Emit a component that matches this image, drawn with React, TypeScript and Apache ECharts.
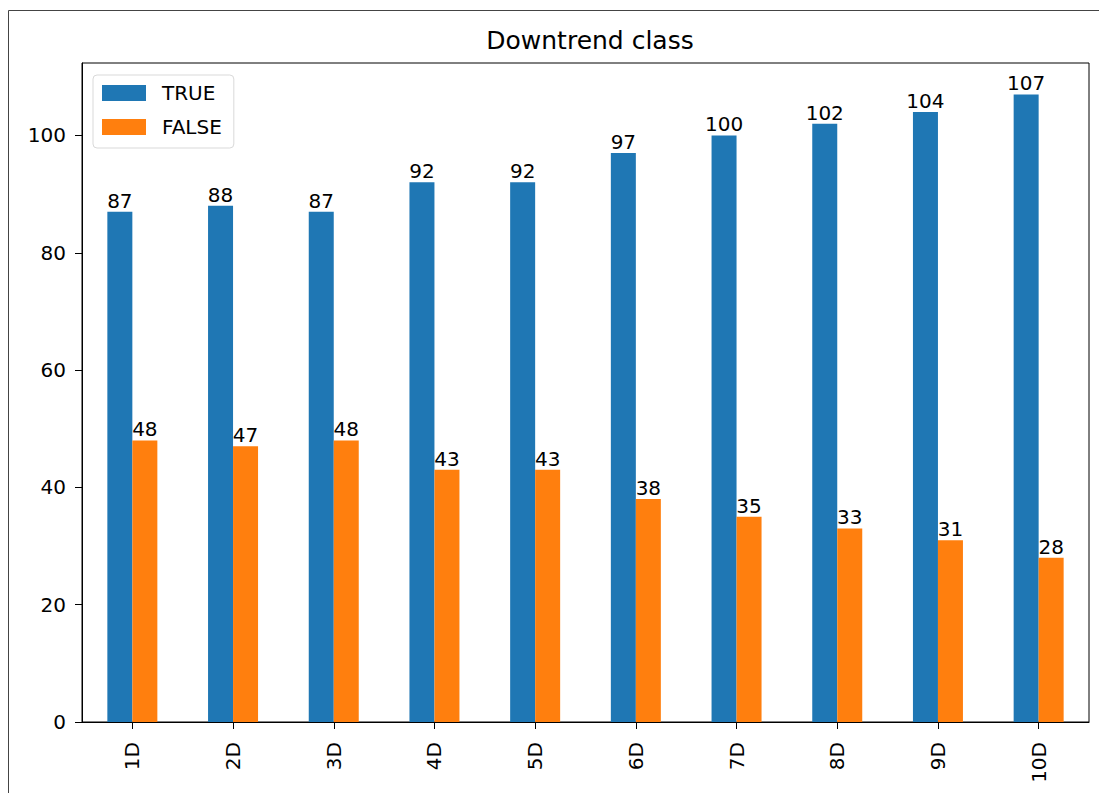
import React, { useEffect, useRef } from "react";
import * as echarts from "echarts";

const categories = ["1D", "2D", "3D", "4D", "5D", "6D", "7D", "8D", "9D", "10D"];
const trueValues = [87, 88, 87, 92, 92, 97, 100, 102, 104, 107];
const falseValues = [48, 47, 48, 43, 43, 38, 35, 33, 31, 28];
const yTicks = [0, 20, 40, 60, 80, 100];
const titleText = "Downtrend class";

const FONT = "DejaVu Sans";

export default function App() {
  const ref = useRef<HTMLDivElement>(null);
  useEffect(() => {
    if (!ref.current) return;
    const chart = echarts.init(ref.current, null, { renderer: "svg" });
    const labelCfg = {
      show: true,
      position: "top",
      distance: 1,
      color: "#000",
      fontFamily: FONT,
      fontSize: 20,
      lineHeight: 20,
    };
    chart.setOption({
      animation: false,
      backgroundColor: "#fff",
      textStyle: { fontFamily: FONT },
      title: {
        text: titleText,
        left: 585,
        textAlign: "center",
        top: 23,
        textStyle: { fontFamily: FONT, fontSize: 25, fontWeight: "normal", color: "#000" },
      },
      legend: {
        orient: "vertical",
        left: 93,
        top: 75,
        padding: [8, 12, 11, 9],
        itemWidth: 44,
        itemHeight: 16,
        itemGap: 14,
        icon: "rect",
        backgroundColor: "#fff",
        borderColor: "#d9d9d9",
        borderWidth: 1,
        borderRadius: 4,
        textStyle: { fontFamily: FONT, fontSize: 20, lineHeight: 20, color: "#000", padding: [0, 0, 0, 11] },
        data: ["TRUE", "FALSE"],
      },
      grid: {
        left: 82,
        right: 10,
        top: 63,
        bottom: 71,
        show: true,
        borderColor: "#000",
        borderWidth: 1,
        containLabel: false,
      },
      graphic: [
        { type: "line", shape: { x1: 8.5, y1: 10.5, x2: 1099, y2: 10.5 }, style: { stroke: "#444", lineWidth: 1 } },
        { type: "line", shape: { x1: 8.5, y1: 10.5, x2: 8.5, y2: 793 }, style: { stroke: "#444", lineWidth: 1 } },
      ],
      xAxis: {
        type: "category",
        data: categories,
        axisLine: { show: true, lineStyle: { color: "#000", width: 1 } },
        axisTick: { show: true, alignWithLabel: true, length: 7, lineStyle: { color: "#000" } },
        axisLabel: { rotate: 90, margin: 20, fontSize: 20, color: "#000", fontFamily: FONT },
        splitLine: { show: false },
      },
      yAxis: {
        type: "value",
        min: 0,
        max: 112.35,
        interval: 20,
        axisLine: { show: true, lineStyle: { color: "#000", width: 1 } },
        axisTick: { show: true, length: 7, lineStyle: { color: "#000" }, customValues: yTicks },
        axisLabel: { margin: 16, fontSize: 20, color: "#000", fontFamily: FONT, customValues: yTicks },
        splitLine: { show: false },
      },
      series: [
        {
          name: "TRUE",
          type: "bar",
          data: trueValues,
          barWidth: 25,
          barGap: "0%",
          itemStyle: { color: "#1f77b4" },
          label: labelCfg,
        },
        {
          name: "FALSE",
          type: "bar",
          data: falseValues,
          barWidth: 25,
          barGap: "0%",
          itemStyle: { color: "#ff7f0e" },
          label: labelCfg,
        },
      ],
    });
    return () => chart.dispose();
  }, []);
  return (
    <div
      ref={ref}
      style={{ position: "absolute", left: 0, top: 0, width: 1099, height: 793 }}
    />
  );
}
